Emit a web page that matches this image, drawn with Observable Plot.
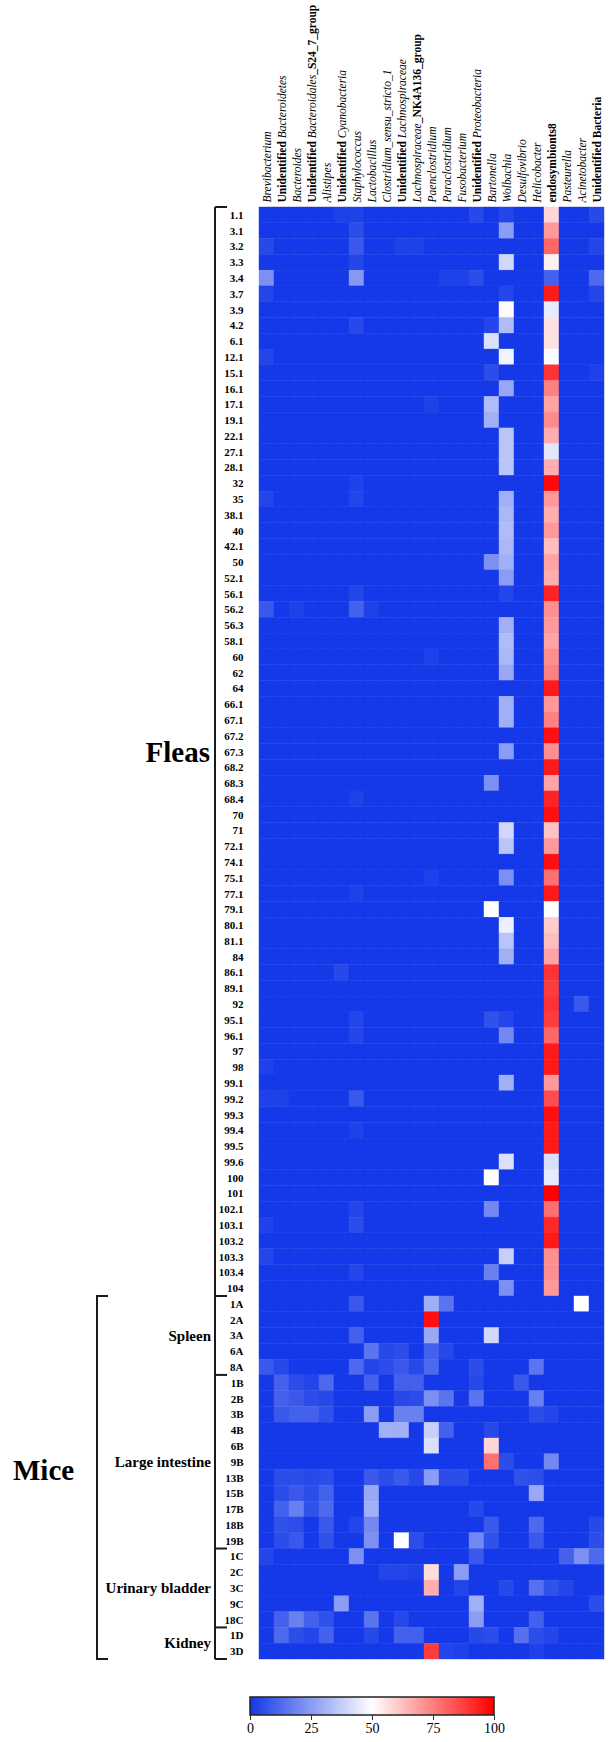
<!DOCTYPE html>
<html><head><meta charset="utf-8">
<script src="https://cdn.jsdelivr.net/npm/d3@7"></script>
<script src="https://cdn.jsdelivr.net/npm/@observablehq/plot@0.6"></script>
<style>
html,body{margin:0;padding:0;background:#fff;}
#wrap{position:relative;width:614px;height:1742px;overflow:hidden;background:#fff;}
#chart{position:absolute;left:0;top:0;}
#legend{position:absolute;left:0;top:1680px;}
</style></head>
<body><div id="wrap"><div id="chart"></div><div id="legend"></div></div>
<script>
// ---------- data ----------
const columns = [
  "Brevibacterium", "Unidentified Bacteroidetes", "Bacteroides",
  "Unidentified Bacteroidales_S24_7_group", "Alistipes", "Unidentified Cyanobacteria",
  "Staphylococcus", "Lactobacillus", "Clostridium_sensu_stricto_1",
  "Unidentified Lachnospiraceae", "Lachnospiraceae_NK4A136_group", "Paenclostridium",
  "Paraclostridium", "Fusobacterium", "Unidentified Proteobacteria", "Bartonella",
  "Wolbachia", "Desulfovibrio", "Helicobacter", "endosymbionts8", "Pasteurella",
  "Acinetobacter", "Unidentified Bacteria"
];

const fleaRows = ["1.1","3.1","3.2","3.3","3.4","3.7","3.9","4.2","6.1","12.1","15.1","16.1","17.1","19.1","22.1","27.1","28.1","32","35","38.1","40","42.1","50","52.1","56.1","56.2","56.3","58.1","60","62","64","66.1","67.1","67.2","67.3","68.2","68.3","68.4","70","71","72.1","74.1","75.1","77.1","79.1","80.1","81.1","84","86.1","89.1","92","95.1","96.1","97","98","99.1","99.2","99.3","99.4","99.5","99.6","100","101","102.1","103.1","103.2","103.3","103.4","104"];
const spleenRows = ["1A","2A","3A","6A","8A"];
const intestineRows = ["1B","2B","3B","4B","6B","9B","13B","15B","17B","18B","19B"];
const bladderRows = ["1C","2C","3C","9C","18C"];
const kidneyRows = ["1D","3D"];

// relative abundance (%), keyed by column index; unlisted cells are 0
const fleaValues = [
  {5:2,6:2,14:4,16:3,19:58,22:4}, {6:5,16:25,19:70}, {0:4,6:8,9:2,10:2,19:80,22:3},
  {6:3,16:40,19:53}, {0:22,6:24,12:2,13:2,14:5,19:10,22:12}, {0:3,16:3,19:95,22:3},
  {16:51,19:45}, {6:4,15:3,16:33,19:56}, {15:42,19:56}, {0:3,16:47,19:49},
  {15:5,19:90,22:2}, {16:28,19:75}, {11:2,15:33,19:68}, {15:30,19:73},
  {16:35,19:66}, {16:35,19:44}, {16:35,19:66}, {6:2,19:98},
  {0:3,6:3,16:30,19:70}, {16:32,19:66}, {16:33,19:70}, {16:32,19:63},
  {15:22,16:30,19:68}, {16:25,19:66}, {6:3,16:3,19:93}, {0:8,2:2,6:10,7:2,19:72},
  {16:30,19:70}, {16:33,19:68}, {11:2,16:32,19:72}, {16:28,19:75},
  {19:95}, {16:30,19:70}, {16:30,19:75}, {19:97}, {16:25,19:72},
  {19:95}, {15:22,19:68}, {6:2,19:93}, {19:97}, {16:40,19:62},
  {16:35,19:70}, {19:97}, {11:2,16:22,19:78}, {6:2,19:95}, {15:50,19:50},
  {16:46,19:60}, {16:35,19:63}, {16:30,19:68}, {5:4,19:90}, {19:88},
  {19:90,21:8}, {6:3,15:6,16:3,19:88}, {6:3,16:20,19:80}, {19:95}, {0:2,19:95},
  {16:30,19:70}, {0:2,1:2,6:8,19:85}, {19:97}, {6:2,19:95}, {19:95},
  {16:42,19:42}, {15:50,19:45}, {19:100}, {6:3,15:20,19:78}, {0:2,6:5,19:92},
  {19:95}, {0:3,16:38,19:72}, {6:3,15:18,19:72}, {16:22,19:70}
];
const spleenValues = [
  {6:8,11:30,12:15,21:50},
  {11:97},
  {6:10,11:28,15:40},
  {7:15,8:4,9:5,11:10,12:4},
  {0:8,1:4,6:12,7:3,8:5,9:8,10:4,11:12,14:5,18:15}
];
const intestineValues = [
  {1:10,2:5,3:3,4:12,7:10,9:10,10:10,14:4,17:8},
  {1:10,2:8,3:5,4:4,9:4,10:5,11:22,12:15,14:15,18:18},
  {1:8,2:10,3:10,4:6,7:25,9:18,10:18,18:5,19:3},
  {8:30,9:30,11:38,12:10,15:4},
  {11:42,15:58},
  {15:78,16:5,19:20},
  {1:5,2:5,3:4,4:5,7:8,8:5,9:8,10:4,11:25,12:5,13:5,17:6,18:5},
  {1:5,2:8,3:5,4:10,7:28,18:28},
  {1:10,2:18,3:6,4:12,7:30,14:4},
  {1:6,2:5,4:8,6:3,7:20,15:8,18:12,22:4},
  {1:5,2:8,4:6,7:22,9:50,10:5,14:20,15:6,18:8,22:5}
];
const bladderValues = [
  {0:3,6:22,14:8,20:10,21:22,22:12},
  {8:3,9:3,10:2,11:57,13:25},
  {11:66,13:3,16:4,18:14,19:6,20:3},
  {5:25,14:30,22:5},
  {1:10,2:18,3:10,4:6,7:15,9:4,14:25,18:10}
];
const kidneyValues = [
  {1:12,2:5,3:3,4:10,7:4,9:10,10:10,14:4,15:5,17:14,18:5,19:3},
  {11:88,12:3,13:2,18:2}
];

const colorDomain = [0, 50, 100];
const colorRange = ["#1539e8", "#ffffff", "#ff0000"];
const legendTicks = [0, 25, 50, 75, 100];

// ---------- build ----------
const groups = [
  {name: "Fleas", rows: fleaRows, values: fleaValues},
  {name: "Spleen", rows: spleenRows, values: spleenValues},
  {name: "Large intestine", rows: intestineRows, values: intestineValues},
  {name: "Urinary bladder", rows: bladderRows, values: bladderValues},
  {name: "Kidney", rows: kidneyRows, values: kidneyValues}
];
const rowOrder = groups.flatMap(g => g.rows);
const cells = [];
for (const g of groups) {
  g.rows.forEach((r, i) => {
    const v = g.values[i] || {};
    columns.forEach((c, j) => cells.push({row: r, col: c, value: v[j] ?? 0}));
  });
}

const FONT = "'Liberation Serif', 'Times New Roman', serif";

function brackets(index, scales) {
  const y = scales.y;
  const bw = y.bandwidth();
  const yTop = r => y(r);
  const yBot = r => y(r) + bw;
  const innerX = 215, hook = 12, outerX = 97, outerHook = 11;
  const g = d3.create("svg:g");
  const lines = g.append("g").attr("fill", "none").attr("stroke", "#1a1a1a").attr("stroke-width", 2);
  const first = rowOrder[0], last = rowOrder[rowOrder.length - 1];
  lines.append("path").attr("d", `M${innerX},${yTop(first)}V${yBot(last)}`);
  for (const gr of groups) {
    lines.append("path").attr("d", `M${innerX},${yTop(gr.rows[0])}h${hook}`);
  }
  lines.append("path").attr("d", `M${innerX},${yBot(last)}h${hook}`);
  const miceTop = yTop(spleenRows[0]);
  lines.append("path").attr("d", `M${outerX + outerHook},${miceTop}H${outerX}V${yBot(last)}h${outerHook}`);

  const texts = g.append("g").attr("fill", "black").attr("font-family", FONT).attr("font-weight", "bold");
  const mid = rows => (yTop(rows[0]) + yBot(rows[rows.length - 1])) / 2;
  texts.append("text").attr("x", 210).attr("y", mid(fleaRows)).attr("dy", "0.35em")
    .attr("text-anchor", "end").attr("font-size", 29).text("Fleas");
  const miceRows = [spleenRows[0], kidneyRows[kidneyRows.length - 1]];
  texts.append("text").attr("x", 13).attr("y", mid(miceRows) - 8).attr("dy", "0.35em")
    .attr("text-anchor", "start").attr("font-size", 29).text("Mice");
  for (const gr of groups.slice(1)) {
    texts.append("text").attr("x", 211).attr("y", mid(gr.rows)).attr("dy", "0.35em")
      .attr("text-anchor", "end").attr("font-size", 15).text(gr.name);
  }
  return g.node();
}

const chart = Plot.plot({
  width: 614,
  height: 1662,
  marginLeft: 250,
  marginRight: 1,
  marginTop: 207,
  marginBottom: 3,
  style: {fontFamily: FONT, fontSize: "11.5px", color: "black", background: "white", overflow: "visible"},
  x: {domain: columns, padding: 0, axis: "top", tickRotate: -90, tickSize: 0, tickPadding: 5, label: null},
  y: {domain: rowOrder, padding: 0, tickSize: 0, tickPadding: 7, label: null},
  color: {type: "linear", domain: colorDomain, range: colorRange, interpolate: "rgb"},
  marks: [
    Plot.cell(cells, {x: "col", y: "row", fill: "value", stroke: "value", strokeWidth: 0.4, inset: 0}),
    brackets
  ]
});
document.getElementById("chart").appendChild(chart);

// mixed italic / bold column labels
function labelParts(name) {
  if (name === "Unidentified Bacteria" || name === "endosymbionts8") return [[name, "b"]];
  const parts = [];
  let rest = name;
  if (rest.startsWith("Unidentified ")) { parts.push(["Unidentified ", "b"]); rest = rest.slice(13); }
  const m = rest.match(/^(.*?)(_S24_7_group|_NK4A136_group)$/);
  if (m) { parts.push([m[1], "i"]); parts.push([m[2], "b"]); }
  else parts.push([rest, "i"]);
  return parts;
}
const colSet = new Set(columns);
const rowSet = new Set(rowOrder);
chart.querySelectorAll("text").forEach(t => {
  const s = t.textContent;
  if (colSet.has(s) && !t.closest("[aria-label^='y-axis']")) {
    while (t.firstChild) t.removeChild(t.firstChild);
    for (const [txt, st] of labelParts(s)) {
      const ts = document.createElementNS("http://www.w3.org/2000/svg", "tspan");
      ts.textContent = txt;
      if (st === "b") { ts.setAttribute("font-weight", "bold"); ts.setAttribute("font-style", "normal"); }
      else { ts.setAttribute("font-weight", "normal"); ts.setAttribute("font-style", "italic"); }
      t.appendChild(ts);
    }
  } else if (rowSet.has(s)) {
    t.setAttribute("font-weight", "bold");
    t.setAttribute("font-size", "11px");
  }
});

// colour legend
const legend = Plot.legend({
  color: {type: "linear", domain: colorDomain, range: colorRange, interpolate: "rgb"},
  width: 614, height: 62, marginLeft: 250, marginRight: 120, marginTop: 17, marginBottom: 27,
  ticks: legendTicks, tickSize: 5, label: null,
  style: {fontFamily: FONT, fontSize: "14px", color: "black", background: "transparent", overflow: "visible"}
});
document.getElementById("legend").appendChild(legend);
const lsvg = legend.tagName.toLowerCase() === "svg" ? legend : legend.querySelector("svg");
if (lsvg) {
  lsvg.querySelectorAll(".tick line, line").forEach(l => { l.setAttribute("y1", 0); l.setAttribute("stroke", "#333"); });
  const ns = "http://www.w3.org/2000/svg";
  const r = document.createElementNS(ns, "rect");
  r.setAttribute("x", 250); r.setAttribute("y", 17); r.setAttribute("width", 244); r.setAttribute("height", 18);
  r.setAttribute("fill", "none"); r.setAttribute("stroke", "#222"); r.setAttribute("stroke-width", 1.5);
  lsvg.appendChild(r);
}
</script>
</body></html>
